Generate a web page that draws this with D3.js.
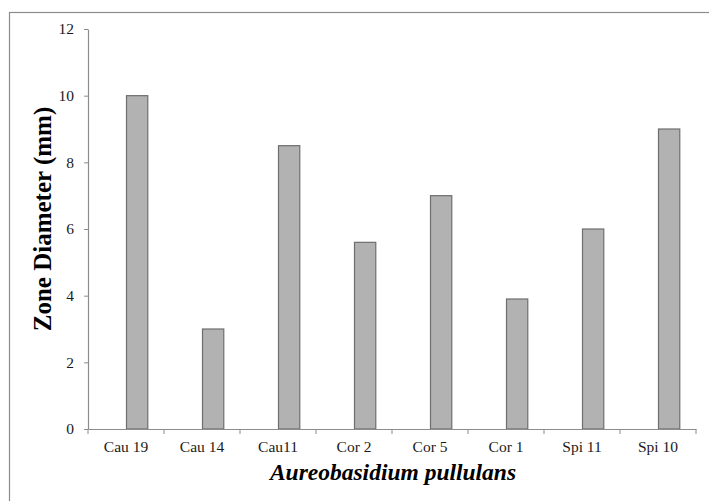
<!DOCTYPE html>
<html>
<head>
<meta charset="utf-8">
<script src="https://cdn.jsdelivr.net/npm/d3@7"></script>
<style>
  body { margin: 0; background: #fff; }
  svg { display: block; }
</style>
</head>
<body>
<div id="chart"></div>
<script>
const categories = ["Cau 19", "Cau 14", "Cau11", "Cor 2", "Cor 5", "Cor 1", "Spi 11", "Spi 10"];
const values = [10, 3, 8.5, 5.6, 7, 3.9, 6, 9];
const yTicks = [0, 2, 4, 6, 8, 10, 12];

const width = 709;
const height = 501;
const margin = { left: 88, right: 13, top: 29, bottom: 72 };
const serif = "'Liberation Serif', 'Times New Roman', serif";

const svg = d3.select("#chart")
  .append("svg")
  .attr("width", width)
  .attr("height", height);

// outer frame (runs off right and bottom edge like the source)
svg.append("rect")
  .attr("x", 9.5)
  .attr("y", 12.5)
  .attr("width", width)
  .attr("height", height)
  .attr("fill", "none")
  .attr("stroke", "#8c8c8c")
  .attr("stroke-width", 1.2);

const x = d3.scaleBand()
  .domain(categories)
  .range([margin.left, width - margin.right]);

const y = d3.scaleLinear()
  .domain([0, 12])
  .range([height - margin.bottom, margin.top]);

const barW = x.bandwidth() * 0.28;

// bars sit right of the category centre (empty first series in the cluster)
svg.append("g")
  .selectAll("rect")
  .data(values)
  .join("rect")
  .attr("x", (d, i) => x(categories[i]) + x.bandwidth() / 2 + 0.5)
  .attr("y", d => y(d))
  .attr("width", barW)
  .attr("height", d => y(0) - y(d))
  .attr("fill", "#b2b2b2")
  .attr("stroke", "#6e6e6e")
  .attr("stroke-width", 1.2);

// y axis
const yAxis = svg.append("g")
  .attr("transform", `translate(${margin.left},0)`)
  .call(d3.axisLeft(y).tickValues(yTicks).tickSize(4).tickSizeOuter(0).tickPadding(10));

// x axis with ticks at the band boundaries
const xAxis = svg.append("g")
  .attr("transform", `translate(0,${y(0)})`)
  .call(d3.axisBottom(x).tickSize(0).tickPadding(12));

xAxis.append("g")
  .selectAll("line")
  .data(categories.concat(["end"]))
  .join("line")
  .attr("x1", (d, i) => margin.left + i * x.step())
  .attr("x2", (d, i) => margin.left + i * x.step())
  .attr("y1", 0)
  .attr("y2", 5)
  .attr("stroke", "#8c8c8c");

[yAxis, xAxis].forEach(g => {
  g.attr("font-family", serif);
  g.select(".domain").attr("stroke", "#8c8c8c").attr("stroke-width", 1.2);
  g.selectAll(".tick line").attr("stroke", "#8c8c8c");
  g.selectAll("text")
    .attr("font-family", serif)
    .attr("font-size", 15.5)
    .attr("fill", "#1a1a1a");
});

// axis titles
svg.append("text")
  .attr("transform", `translate(51,219) rotate(-90)`)
  .attr("text-anchor", "middle")
  .attr("font-family", serif)
  .attr("font-weight", "bold")
  .attr("font-size", 25)
  .attr("fill", "#000")
  .text("Zone Diameter (mm)");

svg.append("text")
  .attr("x", 393)
  .attr("y", 480)
  .attr("text-anchor", "middle")
  .attr("font-family", serif)
  .attr("font-weight", "bold")
  .attr("font-style", "italic")
  .attr("font-size", 23.5)
  .attr("fill", "#000")
  .text("Aureobasidium pullulans");
</script>
</body>
</html>
